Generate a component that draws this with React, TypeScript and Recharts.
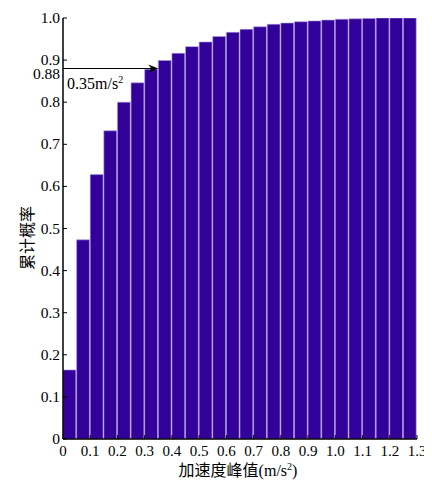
import React from 'react';
import { BarChart, Bar, XAxis, YAxis, ReferenceLine, Label } from 'recharts';

const binCenters = [
  0.025, 0.075, 0.125, 0.175, 0.225, 0.275, 0.325, 0.375, 0.425, 0.475,
  0.525, 0.575, 0.625, 0.675, 0.725, 0.775, 0.825, 0.875, 0.925, 0.975,
  1.025, 1.075, 1.125, 1.175, 1.225, 1.275,
];
const cumulativeProb = [
  0.164, 0.473, 0.628, 0.732, 0.8, 0.846, 0.878, 0.899, 0.916, 0.932,
  0.943, 0.956, 0.966, 0.973, 0.979, 0.985, 0.988, 0.991, 0.993, 0.995,
  0.997, 0.998, 0.999, 1.0, 1.0, 1.0,
];
const xTicks = [0, 0.1, 0.2, 0.3, 0.4, 0.5, 0.6, 0.7, 0.8, 0.9, 1.0, 1.1, 1.2, 1.3];
const xTickLabels = ['0', '0.1', '0.2', '0.3', '0.4', '0.5', '0.6', '0.7', '0.8', '0.9', '1.0', '1.1', '1.2', '1.3'];
const yTicks = [0, 0.1, 0.2, 0.3, 0.4, 0.5, 0.6, 0.7, 0.8, 0.88, 0.9, 1.0];
const yTickLabels = ['0', '0.1', '0.2', '0.3', '0.4', '0.5', '0.6', '0.7', '0.8', '0.88', '0.9', '1.0'];
const markerX = 0.35;
const markerY = 0.88;
const markerText = '0.35m/s';
const xTitleCjk = '加速度峰值';
const xTitleUnit = '(m/s';
const xTitleEnd = ')';
const supText = '2';
const yTitle = '累计概率';

const data = binCenters.map((x, i) => ({ x, p: cumulativeProb[i] }));

const SERIF = "'Liberation Serif', serif";
const CJK = "'Noto Sans CJK SC', sans-serif";
const BAR_FILL = '#330099';

const labelFor = (ticks: number[], labels: string[], v: number) => {
  const i = ticks.findIndex((t) => Math.abs(t - v) < 1e-9);
  return i >= 0 ? labels[i] : String(v);
};

const BottomTick = (props: any) => {
  const { x, y, payload } = props;
  return (
    <g>
      <line x1={x} y1={y} x2={x} y2={y - 4} stroke="#000" strokeWidth={1} />
      <text x={x} y={y + 16.5} textAnchor="middle" style={{ fontFamily: SERIF, fontSize: 15 }} fill="#000">
        {labelFor(xTicks, xTickLabels, payload.value)}
      </text>
    </g>
  );
};

const TopTick = (props: any) => {
  const { x, y } = props;
  return <line x1={x} y1={y} x2={x} y2={y + 4} stroke="#000" strokeWidth={1} />;
};

const LeftTick = (props: any) => {
  const { x, y, payload } = props;
  const isSpecial = Math.abs(payload.value - markerY) < 1e-9;
  return (
    <g>
      {!isSpecial && <line x1={x} y1={y} x2={x + 4} y2={y} stroke="#000" strokeWidth={1} />}
      <text
        x={x - 3}
        y={y + (isSpecial ? 10 : 5)}
        textAnchor="end"
        style={{ fontFamily: SERIF, fontSize: 15.5 }}
        fill="#000"
      >
        {labelFor(yTicks, yTickLabels, payload.value)}
      </text>
    </g>
  );
};

const RightTick = (props: any) => {
  const { x, y, payload } = props;
  if (Math.abs(payload.value - markerY) < 1e-9) return <g />;
  return <line x1={x} y1={y} x2={x - 4} y2={y} stroke="#000" strokeWidth={1} />;
};

const YTitle = (props: any) => {
  const { viewBox } = props;
  const cx = viewBox.x + 8;
  const cy = viewBox.y + viewBox.height / 2 + 9.5;
  return (
    <text
      x={cx}
      y={cy}
      transform={`rotate(-90 ${cx} ${cy})`}
      textAnchor="middle"
      dominantBaseline="central"
      style={{ fontFamily: CJK, fontSize: 16 }}
      fill="#000"
    >
      {yTitle}
    </text>
  );
};

const XTitle = (props: any) => {
  const { viewBox } = props;
  const cx = viewBox.x + viewBox.width / 2 - 2;
  const by = viewBox.y + 37;
  return (
    <text x={cx} y={by} textAnchor="middle" style={{ fontFamily: SERIF, fontSize: 16 }} fill="#000">
      <tspan style={{ fontFamily: CJK }}>{xTitleCjk}</tspan>
      <tspan>{xTitleUnit}</tspan>
      <tspan dy={-6} style={{ fontSize: 10 }}>{supText}</tspan>
      <tspan dy={6}>{xTitleEnd}</tspan>
    </text>
  );
};

const ArrowShape = (props: any) => {
  const { x1, y1, x2, y2 } = props;
  if (x1 == null || x2 == null) return <g />;
  return (
    <g>
      <line x1={x1} y1={y1} x2={x2 - 6} y2={y2} stroke="#000" strokeWidth={1.2} />
      <polygon
        points={`${x2},${y2} ${x2 - 10},${y2 - 4} ${x2 - 7},${y2} ${x2 - 10},${y2 + 4}`}
        fill="#000"
      />
      <text x={x1 + 4} y={y1 + 20} style={{ fontFamily: SERIF, fontSize: 16 }} fill="#000">
        {markerText}
        <tspan dy={-6} style={{ fontSize: 10 }}>{supText}</tspan>
      </text>
    </g>
  );
};

export default function App() {
  return (
    <div style={{ width: 424, height: 472, background: '#fff' }}>
      <BarChart
        width={424}
        height={472}
        data={data}
        margin={{ top: 10, right: 15, bottom: 16, left: 10 }}
        barCategoryGap={0}
        barGap={0}
      >
        <XAxis
          xAxisId="bottom"
          dataKey="x"
          type="number"
          domain={[0, 1.3]}
          ticks={xTicks}
          allowDataOverflow
          interval={0}
          height={25}
          tickSize={0}
          tickMargin={0}
          tickLine={false}
          axisLine={{ stroke: '#000', strokeWidth: 1.5 }}
          tick={<BottomTick />}
        >
          <Label content={<XTitle />} />
        </XAxis>
        <XAxis
          xAxisId="top"
          orientation="top"
          dataKey="x"
          type="number"
          domain={[0, 1.3]}
          ticks={xTicks}
          allowDataOverflow
          interval={0}
          height={0}
          tickSize={0}
          tickMargin={0}
          tickLine={false}
          axisLine={{ stroke: '#000', strokeWidth: 1.5 }}
          tick={<TopTick />}
        />
        <YAxis
          yAxisId="left"
          type="number"
          domain={[0, 1]}
          ticks={yTicks}
          allowDataOverflow
          interval={0}
          width={45}
          tickSize={0}
          tickMargin={0}
          tickLine={false}
          axisLine={{ stroke: '#000', strokeWidth: 1.5 }}
          tick={<LeftTick />}
        >
          <Label content={<YTitle />} />
        </YAxis>
        <YAxis
          yAxisId="right"
          orientation="right"
          type="number"
          domain={[0, 1]}
          ticks={yTicks}
          allowDataOverflow
          interval={0}
          width={0}
          tickSize={0}
          tickMargin={0}
          tickLine={false}
          axisLine={false}
          tick={<RightTick />}
        />
        <Bar
          xAxisId="bottom"
          yAxisId="left"
          dataKey="p"
          fill={BAR_FILL}
          stroke="#a899e0"
          strokeWidth={0.6}
          barSize={12.8}
          isAnimationActive={false}
        />
        <ReferenceLine
          xAxisId="bottom"
          yAxisId="left"
          segment={[
            { x: 0, y: markerY },
            { x: markerX, y: markerY },
          ]}
          shape={<ArrowShape />}
          ifOverflow="visible"
        />
      </BarChart>
    </div>
  );
}
